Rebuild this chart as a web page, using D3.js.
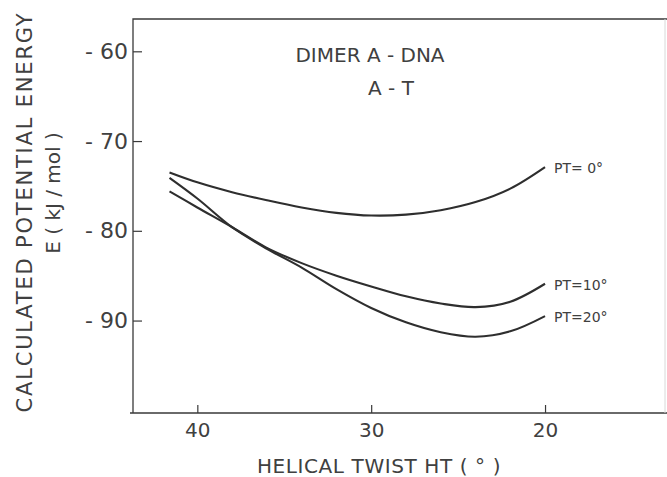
<!DOCTYPE html>
<html lang="en">
<head>
    <meta charset="UTF-8">
    <title>Dimer A-DNA A-T</title>
    <script type="text/javascript" src="https://cdn.jsdelivr.net/npm/d3@7"></script>
    <style>
        body { margin: 0; background: #fff; overflow: hidden; }
        svg { display: block; }
        text { font-family: "DejaVu Sans", sans-serif; fill: #404040; }
    </style>
</head>
<body>
    <script type="text/javascript">

        //Width and height
        var w = 667;
        var h = 477;

        //helical twist (deg)
        var twist = [41.6, 40, 38, 36, 34, 32, 30, 28, 26, 24, 22, 20];
        //energies kJ/mol for each propeller twist
        var pt0  = [-73.5, -74.6, -75.7, -76.6, -77.4, -78.0, -78.3, -78.2, -77.7, -76.8, -75.3, -72.9];
        var pt10 = [-75.6, -77.4, -79.6, -81.9, -83.6, -85.0, -86.2, -87.3, -88.1, -88.5, -87.9, -85.9];
        var pt20 = [-74.1, -76.4, -79.6, -82.0, -84.1, -86.5, -88.6, -90.2, -91.3, -91.8, -91.2, -89.5];

        var seriesNames = ["PT= 0°", "PT=10°", "PT=20°"];
        var seriesValues = [pt0, pt10, pt20];

        var xTicks = [40, 30, 20];
        var yTicks = [-60, -70, -80, -90];

        var titleLines = ["DIMER A - DNA", "A - T"];

        //frame in pixels
        var frameL = 133, frameR = 665, frameT = 19, frameB = 413;

        var xScale = d3.scaleLinear()
                        .domain([43.7, 13.1])
                        .range([frameL, frameR]);

        var yScale = d3.scaleLinear()
                        .domain([-100.3, -56.4])
                        .range([frameB, frameT]);

        var svg = d3.select("body")
                    .append("svg")
                    .attr("width", w)
                    .attr("height", h);

        //frame
        svg.append("path")
            .attr("d", "M" + (frameL - 3) + "," + frameB + "H" + w + "M" + frameL + "," + frameB + "V" + frameT + "H" + w)
            .attr("fill", "none")
            .attr("stroke", "#3a3a3a")
            .attr("stroke-width", 1.3);
        svg.append("line")
            .attr("x1", frameR).attr("x2", frameR)
            .attr("y1", frameT).attr("y2", frameB)
            .attr("stroke", "#d8d8d8")
            .attr("stroke-width", 1);

        //axes
        var xAxis = d3.axisBottom(xScale)
                        .tickValues(xTicks)
                        .tickSizeInner(-8)
                        .tickSizeOuter(0)
                        .tickPadding(10);

        var yAxis = d3.axisLeft(yScale)
                        .tickValues(yTicks)
                        .tickSizeInner(-9)
                        .tickSizeOuter(0)
                        .tickPadding(5)
                        .tickFormat(function(d) { return "-\u00a0" + Math.abs(d); });

        var gx = svg.append("g")
            .attr("transform", "translate(0," + frameB + ")")
            .call(xAxis);
        var gy = svg.append("g")
            .attr("transform", "translate(" + frameL + ",0)")
            .call(yAxis);

        [gx, gy].forEach(function(g) {
            g.select(".domain").remove();
            g.selectAll("line").attr("stroke", "#3a3a3a").attr("stroke-width", 1.2);
            g.selectAll("text")
                .attr("font-family", "DejaVu Sans, sans-serif")
                .attr("fill", "#404040")
                .attr("font-size", 20);
        });
        gy.selectAll("text").attr("font-size", 22);

        //axis titles
        svg.append("text")
            .attr("x", 379)
            .attr("y", 473)
            .attr("text-anchor", "middle")
            .attr("font-size", 20)
            .attr("letter-spacing", 0.6)
            .text("HELICAL TWIST HT ( ° )");

        svg.append("text")
            .attr("transform", "translate(32,212) rotate(-90)")
            .attr("text-anchor", "middle")
            .attr("font-size", 21)
            .attr("letter-spacing", 1.8)
            .text("CALCULATED POTENTIAL ENERGY");

        svg.append("text")
            .attr("transform", "translate(60,193) rotate(-90)")
            .attr("text-anchor", "middle")
            .attr("font-size", 20)
            .text("E ( kJ / mol )");

        //title
        svg.append("text")
            .attr("x", 370)
            .attr("y", 62)
            .attr("text-anchor", "middle")
            .attr("font-size", 20)
            .text(titleLines[0]);
        svg.append("text")
            .attr("x", 391)
            .attr("y", 95)
            .attr("text-anchor", "middle")
            .attr("font-size", 20)
            .text(titleLines[1]);

        //curves
        var line = d3.line()
                    .x(function(d) { return xScale(d[0]); })
                    .y(function(d) { return yScale(d[1]); })
                    .curve(d3.curveCatmullRom.alpha(0.5));

        seriesValues.forEach(function(vals, i) {
            var pts = twist.map(function(t, j) { return [t, vals[j]]; });
            svg.append("path")
                .datum(pts)
                .attr("d", line)
                .attr("fill", "none")
                .attr("stroke", "#2e2e2e")
                .attr("stroke-width", 2.1);

            var last = pts[pts.length - 1];
            svg.append("text")
                .attr("x", xScale(last[0]) + 9)
                .attr("y", yScale(last[1]) + 6)
                .attr("font-size", 14)
                .text(seriesNames[i]);
        });

    </script>
</body>
</html>
